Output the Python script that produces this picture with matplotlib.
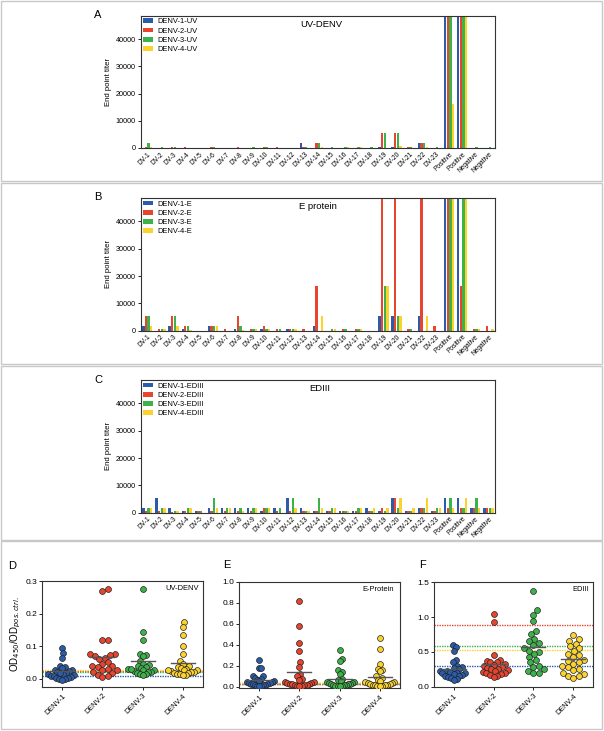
import matplotlib
matplotlib.use('Agg')
import matplotlib.pyplot as plt
import numpy as np
from matplotlib.patches import Rectangle

plt.rcParams['font.family'] = ['Liberation Sans', 'DejaVu Sans']

# ---- data ----
samples = ['DV-%d' % i for i in range(1, 24)] + ['Positive', 'Positive', 'Negative', 'Negative']

uv_d1 = [0, 0, 0, 0, 0, 0, 0, 0, 0, 0, 0, 0, 1800, 0, 0, 0, 0, 0, 200, 200, 0, 1800, 0, 48600, 48600, 0, 0]
uv_d2 = [200, 0, 200, 200, 0, 200, 0, 200, 0, 200, 200, 0, 200, 1800, 0, 0, 0, 0, 5400, 5400, 200, 1800, 0, 48600, 48600, 0, 0]
uv_d3 = [1800, 200, 200, 0, 0, 200, 0, 0, 200, 200, 0, 0, 200, 1800, 200, 200, 200, 200, 5400, 5400, 200, 1800, 200, 48600, 48600, 200, 200]
uv_d4 = [200, 0, 0, 0, 0, 0, 0, 0, 0, 0, 0, 0, 0, 200, 0, 200, 200, 0, 0, 600, 0, 200, 0, 16200, 48600, 0, 0]

e_d1 = [1800, 0, 1800, 600, 0, 1800, 0, 600, 0, 600, 0, 600, 0, 1800, 0, 0, 0, 0, 5400, 5400, 0, 5400, 0, 48600, 48600, 0, 0]
e_d2 = [5400, 600, 5400, 1800, 0, 1800, 600, 5400, 600, 1800, 600, 600, 600, 16200, 0, 600, 600, 0, 48600, 48600, 600, 48600, 1800, 48600, 16200, 600, 1800]
e_d3 = [5400, 600, 5400, 1800, 0, 1800, 0, 1800, 600, 600, 600, 600, 0, 0, 600, 600, 600, 0, 16200, 5400, 600, 0, 0, 48600, 48600, 600, 0]
e_d4 = [1800, 600, 1800, 200, 0, 1800, 0, 200, 600, 600, 0, 600, 0, 5400, 600, 0, 600, 0, 16200, 5400, 0, 5400, 0, 48600, 48600, 600, 600]

ed_d1 = [1800, 5400, 1800, 600, 600, 1800, 1800, 1800, 1800, 600, 1800, 5400, 1800, 600, 600, 600, 600, 1800, 600, 5400, 600, 1800, 600, 5400, 5400, 1800, 1800]
ed_d2 = [600, 600, 200, 600, 600, 600, 600, 600, 600, 1800, 600, 600, 600, 600, 600, 600, 600, 600, 1800, 5400, 600, 1800, 600, 1800, 1800, 1800, 1800]
ed_d3 = [1800, 1800, 600, 1800, 600, 5400, 1800, 1800, 1800, 1800, 1800, 5400, 600, 5400, 1800, 600, 1800, 600, 600, 1800, 600, 1800, 1800, 5400, 1800, 5400, 1800]
ed_d4 = [1800, 1800, 600, 1800, 0, 1800, 1800, 600, 1800, 1800, 0, 1800, 600, 1800, 1800, 600, 1800, 1800, 1800, 5400, 1800, 5400, 1800, 1800, 5400, 1800, 1800]

groups = ['DENV-1', 'DENV-2', 'DENV-3', 'DENV-4']

d_uv = [
    [0.095, 0.08, 0.063, 0.04, 0.036, 0.032, 0.028, 0.025, 0.022, 0.02, 0.018, 0.015, 0.013, 0.011, 0.009, 0.007, 0.005, 0.003, 0.001, 0.0, -0.002, -0.004, 0.017],
    [0.275, 0.27, 0.12, 0.12, 0.076, 0.075, 0.072, 0.07, 0.065, 0.06, 0.05, 0.045, 0.04, 0.038, 0.035, 0.03, 0.028, 0.025, 0.02, 0.018, 0.012, 0.008, 0.004],
    [0.275, 0.145, 0.12, 0.076, 0.072, 0.07, 0.055, 0.045, 0.042, 0.04, 0.035, 0.032, 0.03, 0.027, 0.025, 0.022, 0.02, 0.019, 0.016, 0.014, 0.013, 0.01, 0.03],
    [0.175, 0.16, 0.135, 0.1, 0.075, 0.055, 0.045, 0.04, 0.035, 0.032, 0.03, 0.027, 0.025, 0.022, 0.02, 0.019, 0.018, 0.016, 0.015, 0.014, 0.012, 0.01, 0.028],
]
d_e = [
    [0.26, 0.18, 0.18, 0.1, 0.1, 0.09, 0.08, 0.07, 0.06, 0.055, 0.05, 0.045, 0.04, 0.035, 0.03, 0.028, 0.025, 0.02, 0.018, 0.015, 0.012, 0.01, 0.005],
    [0.82, 0.58, 0.42, 0.34, 0.24, 0.19, 0.12, 0.1, 0.08, 0.065, 0.05, 0.045, 0.04, 0.035, 0.03, 0.028, 0.025, 0.02, 0.018, 0.015, 0.012, 0.01, 0.005],
    [0.35, 0.27, 0.25, 0.16, 0.14, 0.12, 0.08, 0.065, 0.055, 0.05, 0.045, 0.04, 0.035, 0.03, 0.028, 0.025, 0.02, 0.018, 0.015, 0.012, 0.01, 0.008, 0.005],
    [0.47, 0.36, 0.22, 0.17, 0.16, 0.15, 0.1, 0.085, 0.07, 0.06, 0.05, 0.045, 0.04, 0.035, 0.03, 0.025, 0.022, 0.02, 0.018, 0.015, 0.012, 0.01, 0.005],
]
d_ed = [
    [0.6, 0.57, 0.51, 0.39, 0.35, 0.3, 0.28, 0.27, 0.25, 0.23, 0.22, 0.21, 0.2, 0.2, 0.19, 0.18, 0.17, 0.16, 0.15, 0.14, 0.13, 0.11, 0.09],
    [1.05, 0.93, 0.45, 0.39, 0.37, 0.36, 0.35, 0.33, 0.31, 0.3, 0.28, 0.27, 0.26, 0.25, 0.24, 0.22, 0.21, 0.2, 0.19, 0.18, 0.17, 0.15, 0.14],
    [1.38, 1.1, 1.03, 0.94, 0.8, 0.76, 0.69, 0.65, 0.63, 0.6, 0.55, 0.52, 0.5, 0.47, 0.43, 0.38, 0.35, 0.3, 0.28, 0.25, 0.22, 0.2, 0.19],
    [0.74, 0.69, 0.66, 0.62, 0.58, 0.55, 0.51, 0.47, 0.45, 0.42, 0.38, 0.37, 0.35, 0.33, 0.3, 0.28, 0.26, 0.24, 0.2, 0.18, 0.16, 0.15, 0.13],
]
# cutoff values (blue, red, green, yellow)
cut_uv = [0.007, 0.024, 0.021, 0.027]
cut_e = [0.025, 0.03, 0.035, 0.04]
cut_ed = [0.30, 0.886, 0.589, 0.527]

colors = ['#2b5caa', '#e8442e', '#3db24a', '#fcd22c']

W, H = 604, 731
fig = plt.figure(figsize=(W / 100, H / 100), dpi=100)


def px_axes(left, top, right, bottom):
    return fig.add_axes([left / W, 1 - bottom / H, (right - left) / W, (bottom - top) / H])


# panel frames
for top, bot in [(1.5, 181), (183, 364), (366, 540), (541, 729)]:
    fig.add_artist(Rectangle((1 / W, 1 - bot / H), 601 / W, (bot - top) / H,
                             transform=fig.transFigure, fill=False,
                             edgecolor='#c8c8c8', lw=1.0))


def bar_panel(ax, series, labels, title, title_x):
    x = np.arange(len(samples))
    for k, (vals, c) in enumerate(zip(series, colors)):
        ax.bar(x + (k - 1.5) * 0.2, vals, width=0.18, color=c, label=labels[k], linewidth=0)
    ax.set_xlim(-0.5, len(samples) - 0.5)
    ax.set_ylim(0, 48600)
    ax.set_yticks([0, 10000, 20000, 30000, 40000])
    ax.set_xticks(x)
    ax.set_xticklabels(samples, rotation=45, ha='right', rotation_mode='anchor', fontsize=4.8)
    ax.tick_params(axis='y', labelsize=5.2, length=2.5, width=0.6, pad=1)
    ax.tick_params(axis='x', length=0, pad=2)
    ax.set_ylabel('End point titer', fontsize=5.6, labelpad=3)
    for s in ax.spines.values():
        s.set_linewidth(0.8)
        s.set_color('#333333')
    ax.text(title_x, 0.935, title, transform=ax.transAxes, fontsize=6.8, va='center')
    ax.legend(loc='upper left', frameon=False, fontsize=5.4, handlelength=1.3, handleheight=0.6,
              labelspacing=0.3, borderaxespad=0.25, handletextpad=0.6, borderpad=0.1)


def swarm_offsets(ax, yvals, diam):
    # place points one by one (sorted by y) as close to the centre as possible
    pts = ax.transData.transform(np.column_stack([np.zeros(len(yvals)), yvals]))
    ys = pts[:, 1]
    order = np.argsort(ys)
    placed = []
    offs = np.zeros(len(yvals))
    for i in order:
        y = ys[i]
        near = [(px, py) for px, py in placed if abs(py - y) < diam]
        cands = [0.0]
        for px, py in near:
            dx = np.sqrt(max(diam ** 2 - (py - y) ** 2, 0))
            cands += [px + dx, px - dx]
        cands.sort(key=abs)
        for cx in cands:
            ok = all((cx - px) ** 2 + (y - py) ** 2 >= diam ** 2 - 1e-6 for px, py in near)
            if ok:
                break
        offs[i] = cx
        placed.append((cx, y))
    return offs


def dot_panel(ax, data, cuts, ylim, yticks, title, title_x):
    ax.set_xlim(-0.5, 3.5)
    ax.set_ylim(*ylim)
    # px per x-unit
    p0 = ax.transData.transform([(0, 0), (1, 0)])
    ppu = p0[1, 0] - p0[0, 0]
    for c, v in zip(colors, cuts):
        ax.axhline(v, color=c, ls=(0, (1, 0.8)), lw=1.0, zorder=1)
    for g, vals in enumerate(data):
        vals = np.array(vals)
        offs = swarm_offsets(ax, vals, 5.8) / ppu
        # squeeze wide groups so they stay inside their slot (points may overlap)
        wmax = np.abs(offs).max()
        if wmax > 0.36:
            offs = offs * 0.36 / wmax
        ax.scatter(g + offs, vals, s=18, color=colors[g], edgecolor='#222222', linewidth=0.5, zorder=3)
        m = vals.mean()
        ax.plot([g - 0.3, g + 0.3], [m, m], color='#555555', lw=1.0, zorder=4)
    ax.set_xticks(range(4))
    ax.set_xticklabels(groups, rotation=45, ha='right', rotation_mode='anchor', fontsize=5.2)
    ax.set_yticks(yticks)
    ax.tick_params(axis='y', labelsize=6, length=2.5, width=0.6, pad=1)
    ax.tick_params(axis='x', length=2, width=0.6, pad=2)
    for s in ax.spines.values():
        s.set_linewidth(0.8)
        s.set_color('#333333')
    ax.text(title_x, 0.93, title, transform=ax.transAxes, fontsize=5.4, ha='right', va='center')


axA = px_axes(140.7, 15.7, 495, 148)
bar_panel(axA, [uv_d1, uv_d2, uv_d3, uv_d4], ['DENV-1-UV', 'DENV-2-UV', 'DENV-3-UV', 'DENV-4-UV'], 'UV-DENV', 0.45)
axB = px_axes(140.7, 198, 495, 330.7)
bar_panel(axB, [e_d1, e_d2, e_d3, e_d4], ['DENV-1-E', 'DENV-2-E', 'DENV-3-E', 'DENV-4-E'], 'E protein', 0.447)
axC = px_axes(140.7, 380, 495, 512.7)
bar_panel(axC, [ed_d1, ed_d2, ed_d3, ed_d4], ['DENV-1-EDIII', 'DENV-2-EDIII', 'DENV-3-EDIII', 'DENV-4-EDIII'], 'EDIII', 0.475)

axD = px_axes(42.3, 581.3, 202.7, 686.7)
dot_panel(axD, d_uv, cut_uv, (-0.025, 0.3), [0.0, 0.1, 0.2, 0.3], 'UV-DENV', 0.975)
axD.set_yticklabels(['0.0', '0.1', '0.2', '0.3'])
axD.set_ylabel(r'OD$_{450}$/OD$_{pos.ctrl.}$', fontsize=7, labelpad=2)
axE = px_axes(239, 582, 400, 688)
dot_panel(axE, d_e, cut_e, (-0.01, 1.0), [0.0, 0.2, 0.4, 0.6, 0.8, 1.0], 'E-Protein', 0.96)
axE.set_yticklabels(['0.0', '0.2', '0.4', '0.6', '0.8', '1.0'])
axF = px_axes(434, 582.3, 593, 686.7)
dot_panel(axF, d_ed, cut_ed, (0, 1.5), [0.0, 0.5, 1.0, 1.5], 'EDIII', 0.975)
axF.set_yticklabels(['0.0', '0.5', '1.0', '1.5'])

# panel letters
for lab, x, y in [('A', 98, 15), ('B', 98, 197), ('C', 98, 380), ('D', 12, 566), ('E', 227, 565), ('F', 423, 565)]:
    fig.text(x / W, 1 - y / H, lab, fontsize=8, va='center', ha='center')

fig.savefig('out.png', dpi=100)
